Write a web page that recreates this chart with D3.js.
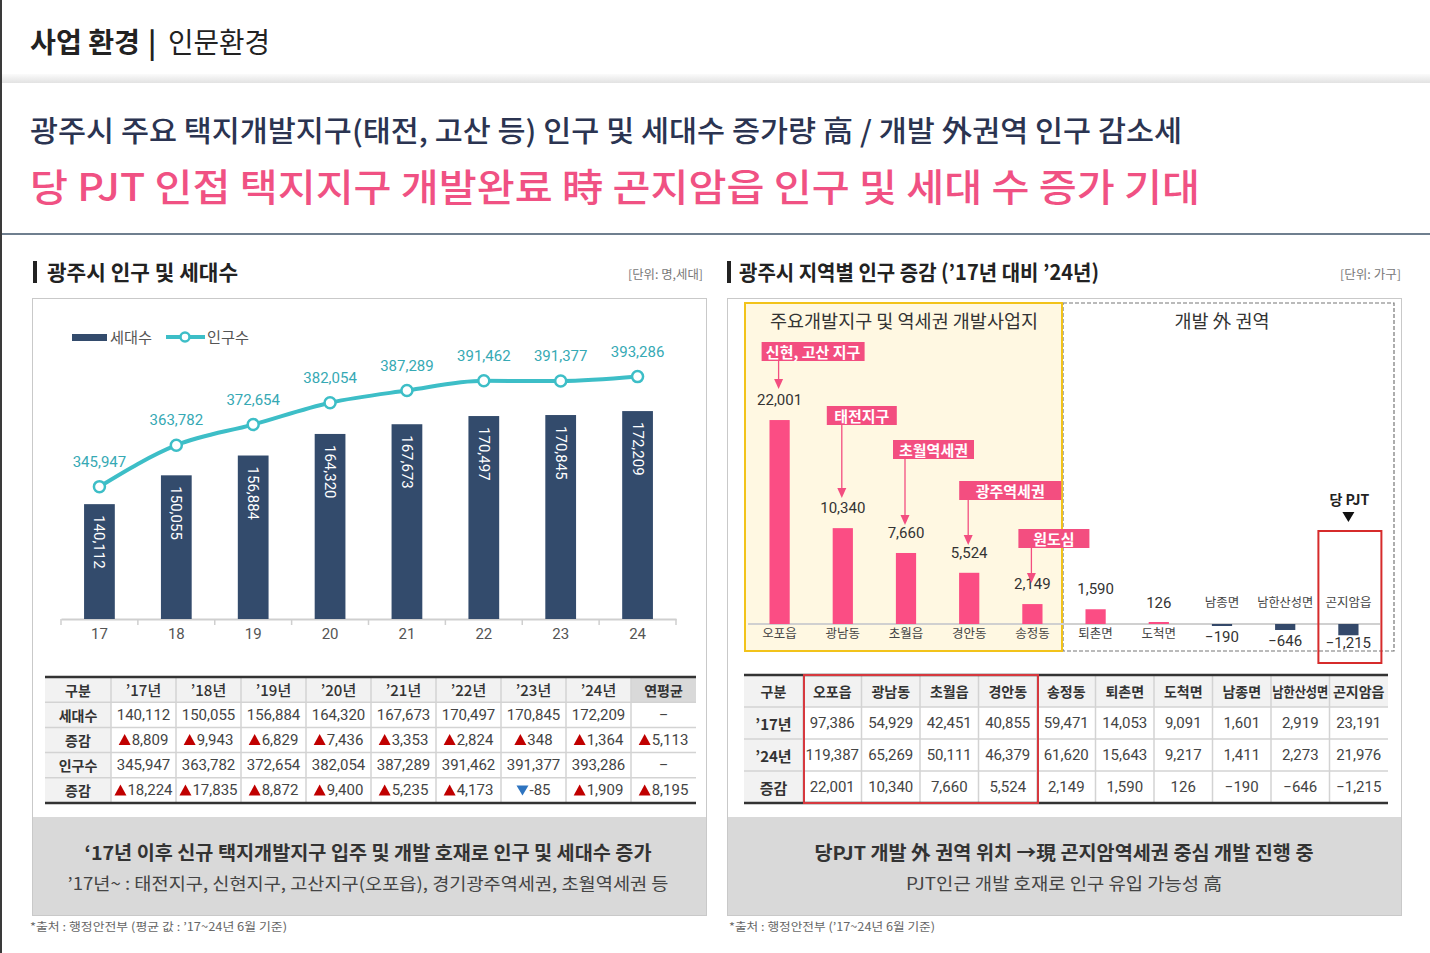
<!DOCTYPE html>
<html><head><meta charset="utf-8">
<script src="https://cdn.jsdelivr.net/npm/d3@7"></script>
<style>
html,body{margin:0;padding:0;background:#fff;}
svg{display:block;}
</style></head><body>
<svg id="c" width="1430" height="953"></svg>
<script>
// ---------------- DATA ----------------
const years = ["17","18","19","20","21","22","23","24"];
const tableYears = ["’17년","’18년","’19년","’20년","’21년","’22년","’23년","’24년"];
const households = [140112,150055,156884,164320,167673,170497,170845,172209];
const population = [345947,363782,372654,382054,387289,391462,391377,393286];
const householdChange = [8809,9943,6829,7436,3353,2824,348,1364];
const populationChange = [18224,17835,8872,9400,5235,4173,-85,1909];
const avgHouseholdChange = 5113;
const avgPopulationChange = 8195;

const regions = ["오포읍","광남동","초월읍","경안동","송정동","퇴촌면","도척면","남종면","남한산성면","곤지암읍"];
const households17 = [97386,54929,42451,40855,59471,14053,9091,1601,2919,23191];
const households24 = [119387,65269,50111,46379,61620,15643,9217,1411,2273,21976];
const regionChange = [22001,10340,7660,5524,2149,1590,126,-190,-646,-1215];
const annotations = [
  {region:"오포읍", label:"신현, 고산 지구"},
  {region:"광남동", label:"태전지구"},
  {region:"초월읍", label:"초월역세권"},
  {region:"경안동", label:"광주역세권"},
  {region:"송정동", label:"원도심"}
];
// annotation layout (box offset/size, arrow tip)
const annoLayout = [
  {dx:-17, w:103, top:342, tip:389},
  {dx:-15, w:70,  top:406, tip:498},
  {dx:-12, w:81,  top:440, tip:525},
  {dx:-9,  w:102, top:481, tip:545},
  {dx:-13, w:71,  top:529, tip:583}
];

// ---------------- HELPERS ----------------
const KR = '"Noto Sans CJK KR","Noto Sans",sans-serif';
const NUM = 'Roboto,"Noto Sans CJK KR",sans-serif';
const svg = d3.select("#c");
function T(g, x, y, s, o={}) {
  const t = g.append("text").attr("x",x).attr("y",y).text(s)
    .attr("font-family", o.font||KR).attr("font-size",o.size||14)
    .attr("font-weight",o.weight||400).attr("fill",o.fill||"#333")
    .attr("text-anchor",o.anchor||"start").attr("dominant-baseline","central");
  if (o.w) t.attr("textLength",o.w).attr("lengthAdjust","spacingAndGlyphs");
  return t;
}
const fmt = d3.format(",");

// ---------------- PAGE ----------------
svg.append("rect").attr("width",1430).attr("height",953).attr("fill","#fff");
const defs = svg.append("defs");
const gr = defs.append("linearGradient").attr("id","band").attr("x1",0).attr("x2",0).attr("y1",0).attr("y2",1);
gr.append("stop").attr("offset","0%").attr("stop-color","#fbfbfb");
gr.append("stop").attr("offset","100%").attr("stop-color","#e2e2e2");
svg.append("rect").attr("x",2).attr("y",74).attr("width",1428).attr("height",9).attr("fill","url(#band)");
svg.append("line").attr("x1",1).attr("x2",1).attr("y1",0).attr("y2",953).attr("stroke","#3a3a3a").attr("stroke-width",2);

T(svg,30,41,"사업 환경",{size:28,weight:700,fill:"#222",w:110});
T(svg,148,41,"|",{size:28,weight:700,fill:"#222"});
T(svg,168,41,"인문환경",{size:28,weight:400,fill:"#222",w:102});

T(svg,30,129,"광주시 주요 택지개발지구(태전, 고산 등) 인구 및 세대수 증가량 高 / 개발 外권역 인구 감소세",{size:29,weight:500,fill:"#2b3451",w:1152});
T(svg,30,184,"당 PJT 인접 택지지구 개발완료 時 곤지암읍 인구 및 세대 수 증가 기대",{size:38,weight:500,fill:"#f05183",w:1170});
svg.append("line").attr("x1",2).attr("x2",1430).attr("y1",234).attr("y2",234).attr("stroke","#6f7f8f").attr("stroke-width",2);

// section titles
svg.append("rect").attr("x",33).attr("y",261).attr("width",4).attr("height",22).attr("fill","#222");
T(svg,47,271,"광주시 인구 및 세대수",{size:21,weight:700,fill:"#222",w:191});
T(svg,703,273,"[단위: 명,세대]",{size:12,fill:"#777",anchor:"end",w:75});
svg.append("rect").attr("x",727).attr("y",261).attr("width",4).attr("height",22).attr("fill","#222");
T(svg,739,271,"광주시 지역별 인구 증감 (’17년 대비 ’24년)",{size:21,weight:700,fill:"#222",w:360});
T(svg,1401,273,"[단위: 가구]",{size:12,fill:"#777",anchor:"end",w:61});

// boxes
[32.5, 727.5].forEach(x=>{
  svg.append("rect").attr("x",x).attr("y",298.5).attr("width",674).attr("height",617)
    .attr("fill","#fff").attr("stroke","#c9c9c9").attr("stroke-width",1);
  svg.append("rect").attr("x",x+0.5).attr("y",817).attr("width",673).attr("height",98).attr("fill","#d9d9d9");
});

// ---------------- LEFT CHART ----------------
const gL = svg.append("g");
const xL = d3.scaleBand().domain(years).range([61,676]).paddingInner(0.6).paddingOuter(0.3);
const yBar = d3.scaleLinear().domain([100500,200000]).range([619,330.5]);
const yLine = d3.scaleLinear().domain([289000,400000]).range([619,361]);
const cxL = d => xL(d) + xL.bandwidth()/2;

// axis
const axis = gL.append("g").attr("transform","translate(0,619)")
  .call(d3.axisBottom(xL).tickSize(0).tickPadding(9).tickFormat(d=>d));
axis.select(".domain").attr("stroke","#cfcfcf").attr("stroke-width",2);
axis.selectAll("text").attr("font-family",NUM).attr("font-size",15).attr("fill","#555");
const bounds = years.map(d=>xL(d) - xL.step()*xL.paddingInner()/2).concat([676]);
gL.selectAll(".tk").data(bounds).join("line").attr("x1",d=>d).attr("x2",d=>d)
  .attr("y1",619).attr("y2",625).attr("stroke","#cfcfcf").attr("stroke-width",1.5);

// bars
gL.selectAll(".bar").data(households).join("rect")
  .attr("x",(d,i)=>xL(years[i])).attr("width",xL.bandwidth())
  .attr("y",d=>yBar(d)).attr("height",d=>619-yBar(d)).attr("fill","#334b6c");
gL.selectAll(".bl").data(households).join("text")
  .attr("transform",(d,i)=>`translate(${cxL(years[i])},${yBar(d)+11}) rotate(90)`)
  .attr("dominant-baseline","central").attr("font-family",NUM).attr("font-size",15)
  .attr("fill","#fff").text(d=>fmt(d));

// line
const line = d3.line().x((d,i)=>cxL(years[i])).y(d=>yLine(d)).curve(d3.curveMonotoneX);
gL.append("path").datum(population).attr("d",line).attr("fill","none")
  .attr("stroke","#3dbec7").attr("stroke-width",4);
gL.selectAll(".pt").data(population).join("circle")
  .attr("cx",(d,i)=>cxL(years[i])).attr("cy",d=>yLine(d)).attr("r",5.5)
  .attr("fill","#fff").attr("stroke","#3dbec7").attr("stroke-width",2.5);
gL.selectAll(".pl").data(population).join("text")
  .attr("x",(d,i)=>cxL(years[i])).attr("y",d=>yLine(d)-25)
  .attr("text-anchor","middle").attr("dominant-baseline","central")
  .attr("font-family",NUM).attr("font-size",15).attr("fill","#36a9b4").text(d=>fmt(d));

// legend
gL.append("rect").attr("x",72).attr("y",334).attr("width",35).attr("height",7).attr("fill","#334b6c");
T(gL,110,336,"세대수",{size:15,fill:"#555",w:42});
gL.append("line").attr("x1",166).attr("x2",205).attr("y1",337).attr("y2",337).attr("stroke","#3dbec7").attr("stroke-width",4);
gL.append("circle").attr("cx",185).attr("cy",337).attr("r",4.5).attr("fill","#fff").attr("stroke","#3dbec7").attr("stroke-width",2.5);
T(gL,207,336,"인구수",{size:15,fill:"#555",w:42});

// ---------------- LEFT TABLE ----------------
const tL = svg.append("g");
const lCols = [45,111]; for (let i=1;i<=9;i++) lCols.push(111+65*i);
const lRows = d3.range(6).map(i=>677+i*25.2);
tL.append("rect").attr("x",45).attr("y",677).attr("width",651).attr("height",25.2).attr("fill","#f2f2f2");
tL.append("rect").attr("x",lCols[9]).attr("y",677).attr("width",lCols[10]-lCols[9]).attr("height",25.2).attr("fill","#d9d9d9");
tL.append("rect").attr("x",45).attr("y",lRows[1]).attr("width",66).attr("height",lRows[5]-lRows[1]).attr("fill","#f2f2f2");
lCols.slice(1,10).forEach(x=>tL.append("line").attr("x1",x).attr("x2",x).attr("y1",677).attr("y2",803).attr("stroke","#d3d3d3").attr("stroke-width",1.5));
lRows.slice(1,5).forEach(y=>tL.append("line").attr("x1",45).attr("x2",696).attr("y1",y).attr("y2",y).attr("stroke","#d3d3d3").attr("stroke-width",1.5));
[677,803].forEach(y=>tL.append("line").attr("x1",45).attr("x2",696).attr("y1",y).attr("y2",y).attr("stroke","#333").attr("stroke-width",2.5));
const lcx = i => (lCols[i]+lCols[i+1])/2;
const lcy = r => (lRows[r]+lRows[r+1])/2;
T(tL,lcx(0),lcy(0),"구분",{size:14,weight:700,anchor:"middle",fill:"#333"});
tableYears.forEach((d,i)=>T(tL,lcx(i+1),lcy(0),d,{size:15,weight:500,anchor:"middle",fill:"#333"}));
T(tL,lcx(9),lcy(0),"연평균",{size:14,weight:700,anchor:"middle",fill:"#333"});
function changeCell(g,x,y,v){
  const t = g.append("text").attr("x",0).attr("y",y)
    .attr("dominant-baseline","central").attr("font-family",NUM).attr("font-size",15)
    .attr("fill","#444").text(v<0? "-"+fmt(-v) : fmt(v));
  const w = t.node().getComputedTextLength();
  const start = x - (w+13)/2;
  t.attr("x", start+13);
  const tx = start, ty = y;
  const d = v<0 ? `M${tx},${ty-5}L${tx+12},${ty-5}L${tx+6},${ty+5}Z`
                : `M${tx},${ty+5}L${tx+12},${ty+5}L${tx+6},${ty-6}Z`;
  g.append("path").attr("d",d).attr("fill", v<0?"#2e74c0":"#c00000");
}
const rowDefs = [
  {label:"세대수", vals:households, type:"num", extra:null},
  {label:"증감", vals:householdChange, type:"chg", extra:avgHouseholdChange},
  {label:"인구수", vals:population, type:"num", extra:null},
  {label:"증감", vals:populationChange, type:"chg", extra:avgPopulationChange}
];
rowDefs.forEach((r,ri)=>{
  T(tL,lcx(0),lcy(ri+1),r.label,{size:14,weight:700,anchor:"middle",fill:"#333"});
  r.vals.forEach((v,i)=>{
    if (r.type==="num") T(tL,lcx(i+1),lcy(ri+1),fmt(v),{font:NUM,size:15,anchor:"middle",fill:"#444"});
    else changeCell(tL,lcx(i+1),lcy(ri+1),v);
  });
  if (r.extra===null) T(tL,lcx(9),lcy(ri+1),"–",{font:NUM,size:14,anchor:"middle",fill:"#444"});
  else changeCell(tL,lcx(9),lcy(ri+1),r.extra);
});

T(svg,368,851,"‘17년 이후 신규 택지개발지구 입주 및 개발 호재로 인구 및 세대수 증가",{size:19,weight:700,anchor:"middle",fill:"#333",w:567});
T(svg,368,882,"’17년~ : 태전지구, 신현지구, 고산지구(오포읍), 경기광주역세권, 초월역세권 등",{size:17,anchor:"middle",fill:"#444",w:601});
T(svg,30,926,"*출처 : 행정안전부 (평균 값 : ’17~24년 6월 기준)",{size:11.5,fill:"#666",w:257});

// ---------------- RIGHT CHART ----------------
const gR = svg.append("g");
gR.append("rect").attr("x",1063).attr("y",303).attr("width",331).attr("height",348)
  .attr("fill","#fff").attr("stroke","#777").attr("stroke-width",1.2).attr("stroke-dasharray","4,2");
gR.append("rect").attr("x",745).attr("y",303).attr("width",317).attr("height",348)
  .attr("fill","#fff8e2").attr("stroke","#f2c31a").attr("stroke-width",2);
T(gR,904,320,"주요개발지구 및 역세권 개발사업지",{size:18,anchor:"middle",fill:"#333",w:268});
T(gR,1222,320,"개발 外 권역",{size:18,anchor:"middle",fill:"#333",w:95});

const xR = d3.scaleBand().domain(regions).range([748,1380]).paddingInner(0.68).paddingOuter(0.34);
const yR = d3.scaleLinear().domain([-2000,24000]).range([642.54,401.52]);
const cxR = d => xR(d) + xR.bandwidth()/2;
const y0 = yR(0);

gR.append("line").attr("x1",748).attr("x2",1380).attr("y1",y0).attr("y2",y0).attr("stroke","#d0d0d0").attr("stroke-width",2);
gR.selectAll(".rb").data(regionChange).join("rect")
  .attr("x",(d,i)=>xR(regions[i])).attr("width",xR.bandwidth())
  .attr("y",d=>d>=0? Math.min(yR(d), y0-2) : y0)
  .attr("height",d=>Math.max(Math.abs(yR(d)-y0),2))
  .attr("fill",d=>d>=0?"#fb4d84":"#34496a");
gR.selectAll(".rv").data(regionChange).join("text")
  .attr("x",(d,i)=>cxR(regions[i])).attr("y",d=>d>=0? yR(d)-20 : Math.min(yR(d)+11, 643))
  .attr("text-anchor","middle").attr("dominant-baseline","central")
  .attr("font-family",NUM).attr("font-size",15).attr("fill","#333").text(d=>fmt(d));
gR.selectAll(".rc").data(regions).join("text")
  .attr("x",d=>cxR(d)).attr("y",(d,i)=>regionChange[i]>=0? y0+8 : y0-23)
  .attr("text-anchor","middle").attr("dominant-baseline","central")
  .attr("font-family",KR).attr("font-size",12.5).attr("fill","#444")
  .attr("textLength",d=>d.length>4?56:null).attr("lengthAdjust","spacingAndGlyphs").text(d=>d);

// annotations
annotations.forEach((a,i)=>{
  const L = annoLayout[i], cx = cxR(a.region)-1;
  gR.append("rect").attr("x",cx+L.dx).attr("y",L.top).attr("width",L.w).attr("height",19).attr("fill","#f34e80");
  T(gR,cx+L.dx+L.w/2,L.top+9.5,a.label,{size:15,weight:700,anchor:"middle",fill:"#fff"});
  gR.append("line").attr("x1",cx).attr("x2",cx).attr("y1",L.top+19).attr("y2",L.tip-9).attr("stroke","#f34e80").attr("stroke-width",1.3);
  gR.append("path").attr("d",`M${cx-4.5},${L.tip-10}L${cx+4.5},${L.tip-10}L${cx},${L.tip}Z`).attr("fill","#f34e80");
});

// project marker
const pjx = cxR("곤지암읍");
T(gR,pjx+1,499,"당 PJT",{size:14,weight:700,anchor:"middle",fill:"#222",w:40});
gR.append("path").attr("d",`M${pjx-6},${512}L${pjx+6},${512}L${pjx},${522}Z`).attr("fill","#111");
gR.append("rect").attr("x",pjx-30).attr("y",531).attr("width",63).attr("height",132)
  .attr("fill","none").attr("stroke","#d62b2b").attr("stroke-width",2);

// ---------------- RIGHT TABLE ----------------
const tR = svg.append("g");
const rCols = [744,803]; for (let i=1;i<=10;i++) rCols.push(803+58.5*i);
const rRows = [675,707,739,771,803];
tR.append("rect").attr("x",744).attr("y",675).attr("width",644).attr("height",32).attr("fill","#f2f2f2");
tR.append("rect").attr("x",744).attr("y",707).attr("width",59).attr("height",96).attr("fill","#f2f2f2");
rCols.slice(1,11).forEach(x=>tR.append("line").attr("x1",x).attr("x2",x).attr("y1",675).attr("y2",803).attr("stroke","#d3d3d3").attr("stroke-width",1.5));
rRows.slice(1,4).forEach(y=>tR.append("line").attr("x1",744).attr("x2",1388).attr("y1",y).attr("y2",y).attr("stroke","#d3d3d3").attr("stroke-width",1.5));
[675,803].forEach(y=>tR.append("line").attr("x1",744).attr("x2",1388).attr("y1",y).attr("y2",y).attr("stroke","#333").attr("stroke-width",2.5));
const rcx = i => (rCols[i]+rCols[i+1])/2;
const rcy = r => (rRows[r]+rRows[r+1])/2;
T(tR,rcx(0),rcy(0),"구분",{size:14,weight:700,anchor:"middle"});
regions.forEach((d,i)=>T(tR,rcx(i+1),rcy(0),d,{size:14,weight:700,anchor:"middle",fill:"#333",w:d.length>4?56:null}));
const rRowDefs = [{label:"’17년",vals:households17},{label:"’24년",vals:households24},{label:"증감",vals:regionChange}];
rRowDefs.forEach((r,ri)=>{
  T(tR,rcx(0),rcy(ri+1),r.label,{size:15,weight:700,anchor:"middle"});
  r.vals.forEach((v,i)=>T(tR,rcx(i+1),rcy(ri+1),fmt(v),{font:NUM,size:15,anchor:"middle",fill:"#444"}));
});
tR.append("rect").attr("x",rCols[1]+1).attr("y",675).attr("width",rCols[5]-rCols[1]).attr("height",128)
  .attr("fill","none").attr("stroke","#d6393f").attr("stroke-width",2);

T(svg,1064,851,"당PJT 개발 外 권역 위치 →現 곤지암역세권 중심 개발 진행 중",{size:19,weight:700,anchor:"middle",fill:"#333",w:499});
T(svg,1064,882,"PJT인근 개발 호재로 인구 유입 가능성 高",{size:17,anchor:"middle",fill:"#444",w:316});
T(svg,729,926,"*출처 : 행정안전부 (’17~24년 6월 기준)",{size:11.5,fill:"#666",w:206});
</script></body></html>
